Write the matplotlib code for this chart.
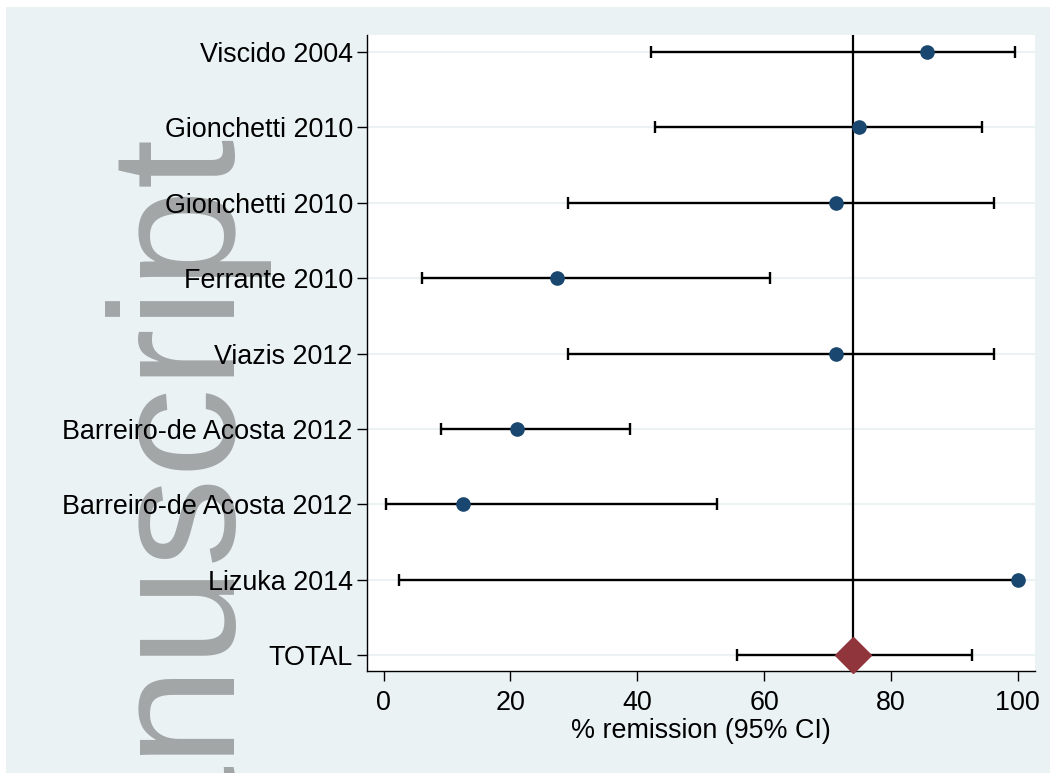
import matplotlib.pyplot as plt
from matplotlib.patches import Rectangle

# Data
studies = ['Viscido 2004', 'Gionchetti 2010', 'Gionchetti 2010', 'Ferrante 2010',
           'Viazis 2012', 'Barreiro-de Acosta 2012', 'Barreiro-de Acosta 2012',
           'Lizuka 2014']
est = [85.7, 75.0, 71.4, 27.3, 71.4, 21.0, 12.5, 100.0]
lo = [42.1, 42.8, 29.1, 6.1, 29.1, 9.1, 0.4, 2.5]
hi = [99.6, 94.4, 96.3, 60.9, 96.3, 38.8, 52.6, 100.0]

total_label = 'TOTAL'
total_est = 74.0
total_lo = 55.8
total_hi = 92.7

xticks = [0, 20, 40, 60, 80, 100]

plt.rcParams['font.family'] = ['Liberation Sans', 'DejaVu Sans']

fig = plt.figure(figsize=(10.5, 7.73), dpi=100, facecolor='white')

# light graph region behind everything
fig.patches.append(Rectangle((6 / 1050, 0.5 / 773), 1.0, (766 - 0.5) / 773,
                             transform=fig.transFigure, facecolor='#eaf2f3',
                             edgecolor='none', zorder=-3))

# watermark
fig.text(220 / 1050, 1 - 124 / 773, 'Manuscript', rotation=90,
         rotation_mode='anchor', ha='right', va='baseline',
         fontsize=129, color='#a2a6a6', zorder=-2)

ax = fig.add_axes([366.7 / 1050, 102 / 773, (1035 - 366.7) / 1050, (671 - 35) / 773])
ax.set_facecolor('white')

n = len(studies)
ypos = list(range(n + 1, 1, -1))
labels = studies + [total_label]
yall = ypos + [1]

ax.errorbar(est, ypos, xerr=[[e - l for e, l in zip(est, lo)], [h - e for e, h in zip(est, hi)]],
            fmt='none', ecolor='black', elinewidth=1.7, capsize=4.5, capthick=1.7, zorder=2)
ax.plot(est, ypos, 'o', color='#1a476f', markersize=9.5, zorder=4, clip_on=False)

ax.errorbar([total_est], [1], xerr=[[total_est - total_lo], [total_hi - total_est]],
            fmt='none', ecolor='black', elinewidth=1.7, capsize=4.5, capthick=1.7, zorder=2)
ax.axvline(total_est, color='black', lw=1.6, zorder=3)
ax.plot([total_est], [1], 'D', color='#90353b', markersize=18, zorder=5, clip_on=False)

ax.set_xlim(-2.65, 102.7)
ax.set_ylim(0.79, 9.225)
ax.set_xticks(xticks)
ax.set_yticks(yall)
ax.set_yticklabels(labels)
ax.tick_params(axis='both', labelsize=19.4, length=7, width=1, color='black')
ax.tick_params(axis='y', pad=3)
ax.tick_params(axis='x', pad=7)
ax.set_xlabel('% remission (95% CI)', fontsize=19.4, labelpad=1)

ax.grid(axis='y', color='#eaf2f3', lw=1.5)
ax.set_axisbelow(True)
for s in ['top', 'right']:
    ax.spines[s].set_visible(False)
for s in ['left', 'bottom']:
    ax.spines[s].set_linewidth(1.0)

fig.savefig('out.png', dpi=100, facecolor='white')
